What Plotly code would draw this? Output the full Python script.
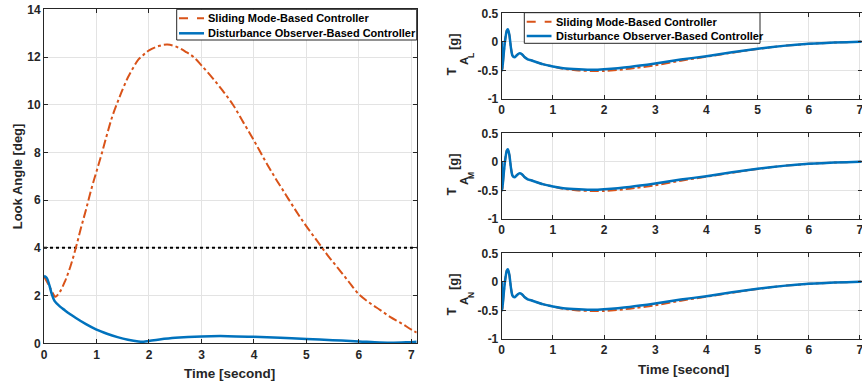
import plotly.graph_objects as go

# ---------------- data ----------------
# Left panel: look angle [deg]
t_smc = [0.0, 0.1, 0.2, 0.22, 0.3, 0.4, 0.5, 0.6, 0.7, 0.8, 0.9, 1.0, 1.1, 1.2, 1.3, 1.4, 1.5,
         1.6, 1.7, 1.8, 1.9, 2.0, 2.2, 2.35, 2.5, 2.7, 2.85, 3.0, 3.2, 3.4, 3.6, 3.8, 4.0,
         4.2, 4.4, 4.6, 4.8, 5.0, 5.2, 5.4, 5.6, 5.8, 6.0, 6.2, 6.4, 6.6, 6.8, 7.0, 7.1]
look_smc = [2.8, 2.4, 1.98, 1.95, 2.15, 2.6, 3.2, 3.95, 4.8, 5.6, 6.45, 7.2, 7.95, 8.75, 9.5,
            10.1, 10.65, 11.15, 11.55, 11.9, 12.1, 12.28, 12.47, 12.52, 12.45, 12.22, 12.0,
            11.65, 11.15, 10.6, 10.0, 9.25, 8.5, 7.7, 6.95, 6.25, 5.55, 4.9, 4.3, 3.7, 3.15,
            2.6, 2.05, 1.7, 1.4, 1.1, 0.85, 0.57, 0.45]
t_dobc = [0.0, 0.05, 0.1, 0.15, 0.2, 0.3, 0.4, 0.5, 0.6, 0.8, 1.0, 1.2, 1.4, 1.6, 1.8, 1.9,
          2.0, 2.2, 2.5, 3.0, 3.5, 4.0, 4.5, 5.0, 5.5, 6.0, 6.3, 6.6, 6.9, 7.1]
look_dobc = [2.82, 2.75, 2.45, 2.05, 1.78, 1.55, 1.38, 1.22, 1.07, 0.8, 0.57, 0.4, 0.26, 0.15,
             0.08, 0.07, 0.1, 0.16, 0.23, 0.29, 0.3, 0.27, 0.23, 0.18, 0.13, 0.08, 0.04, 0.02,
             0.04, 0.07]
look_limit = 4.0

# Right panels: acceleration components [g]
t_acc = [0.0, 0.01, 0.04, 0.07, 0.1, 0.12, 0.15, 0.18, 0.21, 0.25, 0.3, 0.35, 0.4, 0.45, 0.5,
         0.6, 0.8, 1.0, 1.2, 1.5, 1.8, 2.0, 2.5, 3.0, 3.5, 4.0, 4.5, 5.0, 5.5, 6.0, 6.5, 7.0, 7.1]
acc_L_dobc = [0.0, -0.5, -0.2, 0.05, 0.2, 0.22, 0.12, -0.1, -0.24, -0.27, -0.23, -0.2, -0.22,
              -0.27, -0.3, -0.33, -0.39, -0.43, -0.46, -0.48, -0.49, -0.48, -0.44, -0.38, -0.31,
              -0.25, -0.18, -0.12, -0.07, -0.035, -0.012, 0.0, 0.0]
acc_L_smc = [0.0, -0.5, -0.2, 0.05, 0.2, 0.22, 0.12, -0.1, -0.24, -0.27, -0.23, -0.2, -0.22,
             -0.27, -0.3, -0.33, -0.39, -0.43, -0.47, -0.5, -0.51, -0.51, -0.47, -0.41, -0.33,
             -0.26, -0.19, -0.125, -0.07, -0.035, -0.012, 0.0, 0.0]
acc_M_dobc = list(acc_L_dobc)
acc_M_smc = list(acc_L_smc)
acc_N_dobc = list(acc_L_dobc)
acc_N_smc = list(acc_L_smc)

x_ticks = [0, 1, 2, 3, 4, 5, 6, 7]
left_y_ticks = [0, 2, 4, 6, 8, 10, 12, 14]
right_y_ticks = [-1, -0.5, 0, 0.5]
right_y_ticklabels = ["-1", "-0.5", "0", "0.5"]

NAME_SMC = "Sliding Mode-Based Controller"
NAME_DOBC = "Disturbance Observer-Based Controller"
acc_subscripts = ["L", "M", "N"]

# ---------------- style ----------------
W, H = 862, 385
ORANGE = "#D95319"
BLUE = "#0072BD"
AX = "#262626"
GRID = "#E3E3E3"
FONT = "Liberation Sans, Arial, sans-serif"

def px_x(a, b):
    return [a / W, b / W]

def px_y(top, bottom):
    return [(H - bottom) / H, (H - top) / H]

def fx(x_px):
    return x_px / W

def fy(y_px):
    return (H - y_px) / H

fig = go.Figure()

# left
fig.add_trace(go.Scatter(x=[0, 7.1], y=[look_limit, look_limit], mode="lines",
                         line=dict(color="black", width=2, dash="dot"),
                         showlegend=False, xaxis="x", yaxis="y", hoverinfo="skip"))
fig.add_trace(go.Scatter(x=t_smc, y=look_smc, mode="lines", name=NAME_SMC,
                         line=dict(color=ORANGE, width=2, dash="dashdot", shape="spline"),
                         xaxis="x", yaxis="y", showlegend=False))
fig.add_trace(go.Scatter(x=t_dobc, y=look_dobc, mode="lines", name=NAME_DOBC,
                         line=dict(color=BLUE, width=2.5, shape="spline"),
                         xaxis="x", yaxis="y", showlegend=False))

panels = [("x2", "y2", acc_L_smc, acc_L_dobc),
          ("x3", "y3", acc_M_smc, acc_M_dobc),
          ("x4", "y4", acc_N_smc, acc_N_dobc)]
for xa, ya, smc, dobc in panels:
    fig.add_trace(go.Scatter(x=t_acc, y=smc, mode="lines", name=NAME_SMC,
                             line=dict(color=ORANGE, width=2, dash="dashdot", shape="spline",
                                       smoothing=0.6),
                             xaxis=xa, yaxis=ya, showlegend=False))
    fig.add_trace(go.Scatter(x=t_acc, y=dobc, mode="lines", name=NAME_DOBC,
                             line=dict(color=BLUE, width=2.5, shape="spline", smoothing=0.6),
                             xaxis=xa, yaxis=ya, showlegend=False))

tickfont = dict(family=FONT, size=12, color=AX, weight="bold")

def xaxis(domain, anchor, rng):
    return dict(domain=domain, anchor=anchor, range=rng, tickvals=x_ticks,
                showgrid=True, gridcolor=GRID, gridwidth=1, zeroline=False,
                showline=True, linecolor=AX, linewidth=1, mirror="ticks",
                ticks="inside", ticklen=4, tickcolor=AX, tickfont=tickfont,
                automargin=False, ticklabeloverflow="allow")

def yaxis(domain, anchor, rng, tickvals, ticktext):
    return dict(domain=domain, anchor=anchor, range=rng, tickvals=tickvals,
                ticktext=ticktext, showgrid=True, gridcolor=GRID, gridwidth=1,
                zeroline=False, showline=True, linecolor=AX, linewidth=1,
                mirror="ticks", ticks="inside", ticklen=4, tickcolor=AX,
                tickfont=tickfont, automargin=False, ticklabeloverflow="allow")

def txt(text, x_px, y_px, size=12, angle=0, xanchor="center", color=AX):
    return dict(text=text, x=fx(x_px), y=fy(y_px), xref="paper", yref="paper",
                showarrow=False, textangle=angle,
                font=dict(family=FONT, size=size, color=color, weight="bold"),
                xanchor=xanchor, yanchor="middle")

annotations = [
    txt("Look Angle [deg]", 17, 176.3, 13, -90),
    txt("Time [second]", 230, 373, 13.5),
    txt("Time [second]", 683, 369, 13.5),
]
for i, sub in enumerate(acc_subscripts):
    dy = 120 * i
    annotations += [
        txt("T", 451.7, 71.7 + dy, 13, -90),
        txt("A", 463.8, 61.2 + dy, 11.5, -90),
        txt(sub, 470.8, 55.2 + dy, 8.5, -90),
        txt("[g]", 453.3, 41.7 + dy, 13, -90),
    ]

shapes = []

def add_legend(box, sample_x, rows):
    x0, x1, y0, y1 = box
    shapes.append(dict(type="rect", xref="paper", yref="paper",
                       x0=fx(x0), x1=fx(x1), y0=fy(y1), y1=fy(y0),
                       fillcolor="white", line=dict(color=AX, width=1), layer="above"))
    for y, color, dash, width, name in rows:
        shapes.append(dict(type="line", xref="paper", yref="paper",
                           x0=fx(sample_x[0]), x1=fx(sample_x[1]), y0=fy(y), y1=fy(y),
                           line=dict(color=color, width=width, dash=dash), layer="above"))
        annotations.append(txt(name, sample_x[1] + 2, y, 11, 0, "left", "black"))

add_legend((176.7, 416.7, 9.3, 40), (179, 204),
           [(18.3, ORANGE, "dash", 2, NAME_SMC), (33.3, BLUE, "solid", 2.5, NAME_DOBC)])
add_legend((524.3, 760, 12.7, 43.3), (526.7, 551.5),
           [(21.7, ORANGE, "dash", 2, NAME_SMC), (36, BLUE, "solid", 2.5, NAME_DOBC)])

fig.update_layout(
    width=W, height=H,
    margin=dict(l=0, r=0, t=0, b=0, autoexpand=False),
    paper_bgcolor="white", plot_bgcolor="white",
    showlegend=False,
    xaxis=xaxis(px_x(44, 416.7), "y", [0, 7.1]),
    yaxis=yaxis(px_y(9.3, 343.3), "x", [0, 14], left_y_ticks,
                [str(v) for v in left_y_ticks]),
    xaxis2=xaxis(px_x(501.7, 861.5), "y2", [0, 7.03]),
    yaxis2=yaxis(px_y(13.3, 99), "x2", [-1, 0.5], right_y_ticks, right_y_ticklabels),
    xaxis3=xaxis(px_x(501.7, 861.5), "y3", [0, 7.03]),
    yaxis3=yaxis(px_y(133.3, 219), "x3", [-1, 0.5], right_y_ticks, right_y_ticklabels),
    xaxis4=xaxis(px_x(501.7, 861.5), "y4", [0, 7.03]),
    yaxis4=yaxis(px_y(253.3, 339), "x4", [-1, 0.5], right_y_ticks, right_y_ticklabels),
    annotations=annotations,
    shapes=shapes,
)

fig.write_html("out.html", config={"displayModeBar": False},
               post_script="document.body.style.margin='0';document.body.style.overflow='hidden';")
